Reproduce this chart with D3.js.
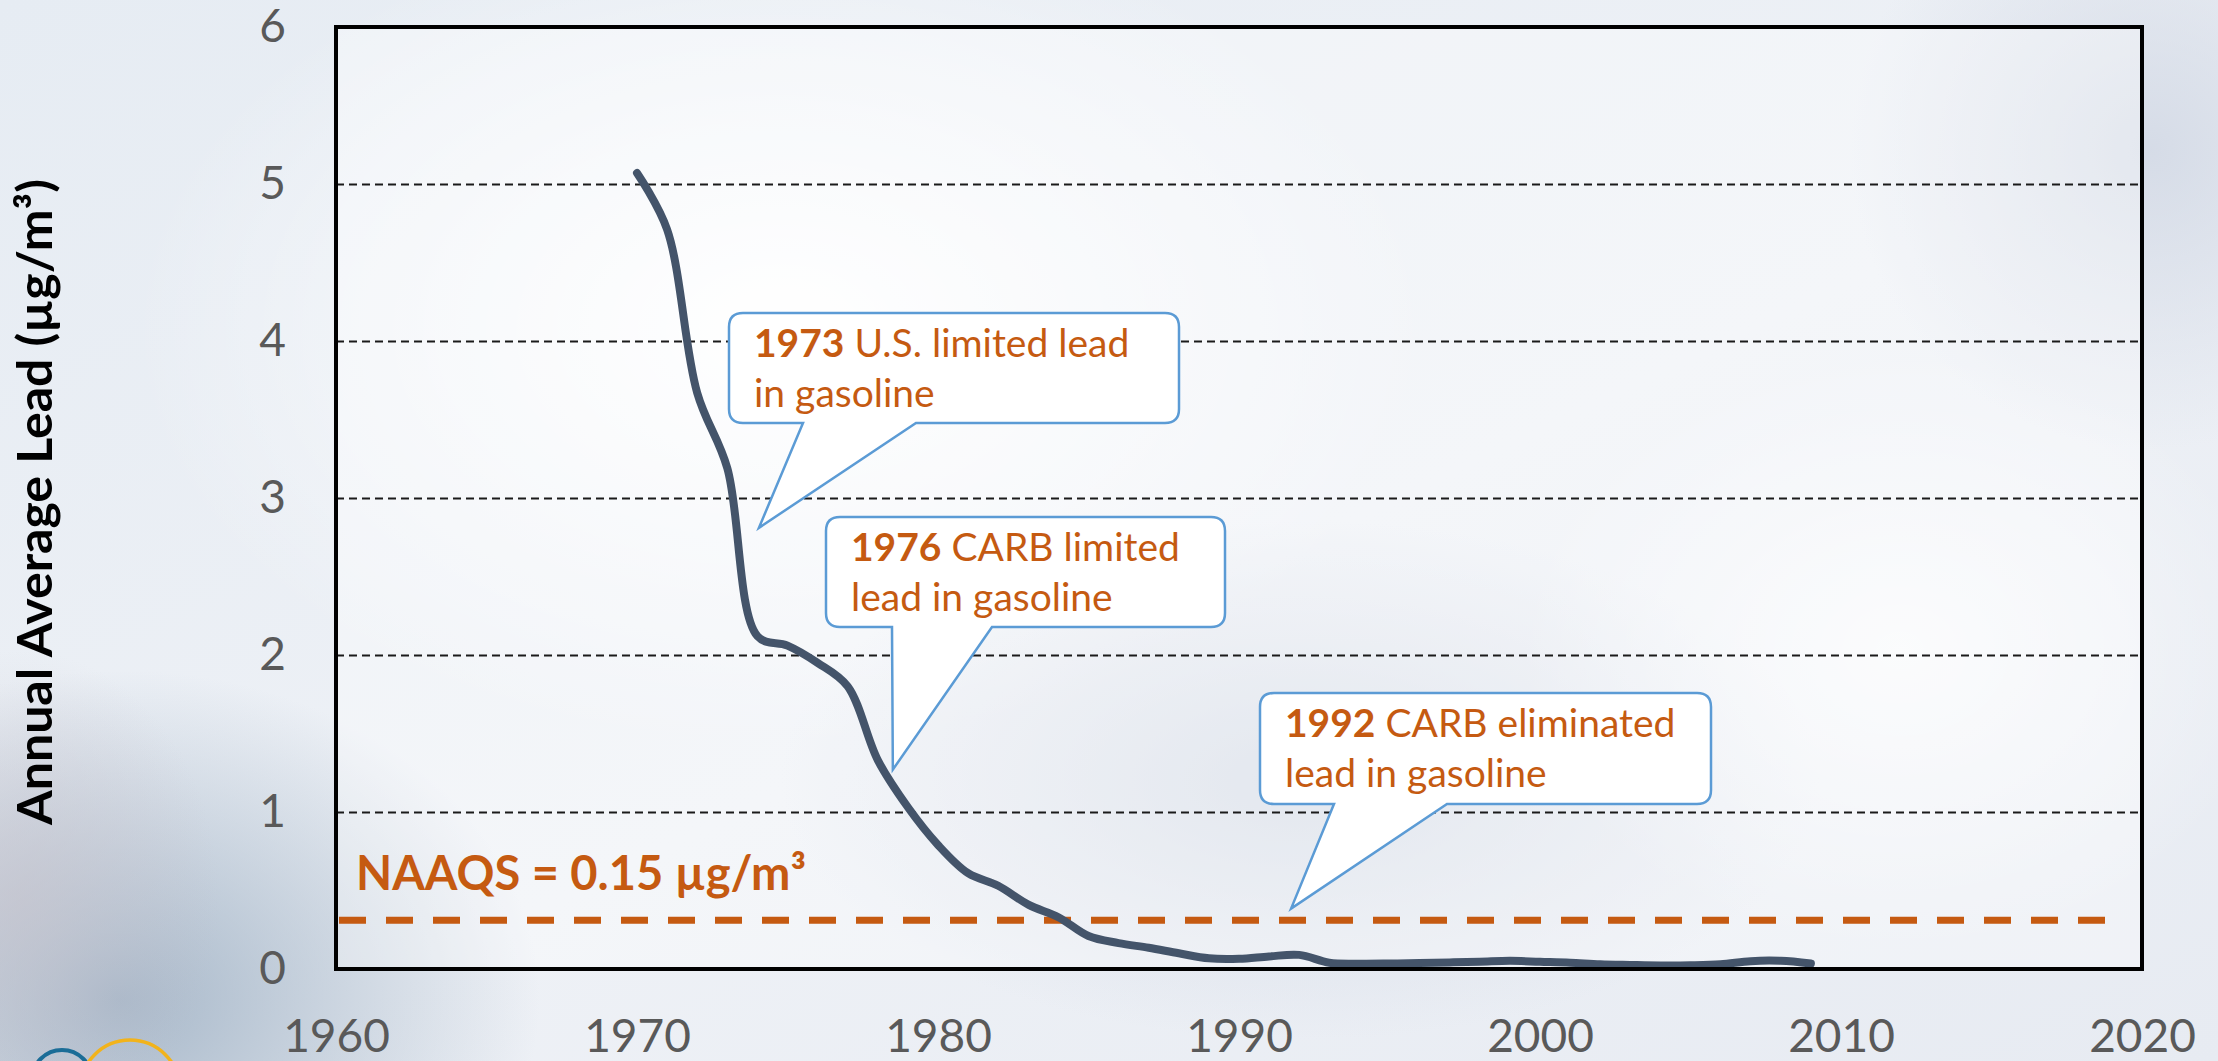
<!DOCTYPE html>
<html>
<head>
<meta charset="utf-8">
<script src="https://cdn.jsdelivr.net/npm/d3@7"></script>
<style>
  body { margin: 0; padding: 0; overflow: hidden; background: #e9eef4; }
  text { font-family: Lato, "Open Sans", sans-serif; }
</style>
</head>
<body>
<div id="chart-area"></div>
<script>
// Data
var years = [1970, 1971, 1972, 1973, 1974, 1975, 1976, 1977, 1978, 1979,
	1980, 1981, 1982, 1983, 1984, 1985, 1986, 1987, 1988, 1989,
	1990, 1991, 1992, 1993, 1994, 1995, 1996, 1997, 1998, 1999,
	2000, 2001, 2002, 2003, 2004, 2005, 2006, 2007, 2008, 2009];
var leadValues = [5.07, 4.71, 3.67, 3.19, 2.12, 2.06, 1.95, 1.80, 1.33, 1.03,
	0.79, 0.61, 0.53, 0.41, 0.33, 0.21, 0.165, 0.135, 0.10, 0.068,
	0.065, 0.08, 0.09, 0.04, 0.034, 0.035, 0.038, 0.042, 0.046, 0.052,
	0.046, 0.04, 0.03, 0.026, 0.023, 0.024, 0.03, 0.05, 0.052, 0.035];
var xTicks = [1960, 1970, 1980, 1990, 2000, 2010, 2020];
var yTicks = [0, 1, 2, 3, 4, 5, 6];
var naaqsLevel = 0.31;
var naaqsLabel = "NAAQS = 0.15 µg/m³";

var calloutYears = ["1973", "1976", "1992"];
var calloutLine1 = [" U.S. limited lead", " CARB limited", " CARB eliminated"];
var calloutLine2 = ["in gasoline", "lead in gasoline", "lead in gasoline"];
var calloutTipYear = [1974.05, 1978.5, 1991.73];
var calloutTipValue = [2.81, 1.27, 0.385];

// Layout
var margin = { left: 336, right: 76, top: 27, bottom: 92 };
var fullW = 2218, fullH = 1061;
var width = fullW - margin.left - margin.right,
	height = fullH - margin.top - margin.bottom;

// callout boxes (plot coords): x, y, w, h, tail start / end along bottom
var boxes = [
	{ x: 393, y: 286, w: 450, h: 110, t0: 74, t1: 187 },
	{ x: 490, y: 490, w: 399, h: 110, t0: 66, t1: 166 },
	{ x: 924, y: 666, w: 451, h: 111, t0: 74, t1: 187 }
];

var orange = "#C55A11";

var svg = d3.select("#chart-area")
	.append("svg")
	.attr("width", fullW)
	.attr("height", fullH);

// Background (blurred sky look)
var defs = svg.append("defs");

var bgLin = defs.append("linearGradient")
	.attr("id", "bgLin")
	.attr("x1", 0).attr("y1", 0).attr("x2", 1).attr("y2", 1);
bgLin.append("stop").attr("offset", "0%").attr("stop-color", "#e6ecf3");
bgLin.append("stop").attr("offset", "55%").attr("stop-color", "#eef1f6");
bgLin.append("stop").attr("offset", "100%").attr("stop-color", "#e7ebf2");

function blob(id, color, op) {
	var rg = defs.append("radialGradient").attr("id", id);
	rg.append("stop").attr("offset", "0%").attr("stop-color", color).attr("stop-opacity", op);
	rg.append("stop").attr("offset", "100%").attr("stop-color", color).attr("stop-opacity", 0);
}
blob("bWhite", "#ffffff", 1);
blob("bDark", "#9fb1c4", 0.9);
blob("bGrey", "#cfd6e3", 0.8);
blob("bWarm", "#c7c3cc", 0.6);

svg.append("rect").attr("width", fullW).attr("height", fullH).attr("fill", "url(#bgLin)");
svg.append("ellipse").attr("cx", 120).attr("cy", 1000).attr("rx", 420).attr("ry", 330).attr("fill", "url(#bDark)");
svg.append("ellipse").attr("cx", 20).attr("cy", 900).attr("rx", 200).attr("ry", 250).attr("fill", "url(#bWarm)");
svg.append("ellipse").attr("cx", 780).attr("cy", 330).attr("rx", 650).attr("ry", 420).attr("fill", "url(#bWhite)");
svg.append("ellipse").attr("cx", 1300).attr("cy", 780).attr("rx", 520).attr("ry", 260).attr("fill", "url(#bGrey)");
svg.append("ellipse").attr("cx", 1900).attr("cy", 650).attr("rx", 380).attr("ry", 300).attr("fill", "url(#bWhite)").attr("opacity", 0.7);
svg.append("ellipse").attr("cx", 2150).attr("cy", 150).attr("rx", 300).attr("ry", 300).attr("fill", "url(#bGrey)");

// Logo fragment bottom left
svg.append("circle").attr("cx", 62).attr("cy", 1080).attr("r", 30)
	.attr("fill", "none").attr("stroke", "#1b6d97").attr("stroke-width", 4);
svg.append("circle").attr("cx", 130).attr("cy", 1090).attr("r", 50)
	.attr("fill", "none").attr("stroke", "#f2b31b").attr("stroke-width", 3.5);

var g = svg.append("g")
	.attr("transform", "translate(" + margin.left + ", " + margin.top + ")");

// plot area wash
g.append("rect")
	.attr("width", width)
	.attr("height", height)
	.attr("fill", "#ffffff")
	.attr("opacity", 0.35);

// Scales
var x = d3.scaleLinear()
	.domain([1960, 2020])
	.range([0, width]);

var y = d3.scaleLinear()
	.domain([0, 6])
	.range([height, 0]);

// Grid lines
var grid = g.append("g")
	.attr("class", "grid")
	.call(d3.axisLeft(y).tickValues([1, 2, 3, 4, 5]).tickSize(-width).tickFormat(""));
grid.select(".domain").remove();
grid.selectAll("line")
	.attr("stroke", "#1a1a1a")
	.attr("stroke-width", 2)
	.attr("stroke-dasharray", "8,5");

// Y Axis labels
var yAxis = d3.axisLeft(y)
	.tickValues(yTicks)
	.tickFormat(d3.format("d"))
	.tickSize(0)
	.tickPadding(50);
var yg = g.append("g")
	.attr("class", "y-axis")
	.call(yAxis);
yg.select(".domain").remove();
yg.selectAll("text")
	.attr("fill", "#595959")
	.style("font-size", "46px")
	.style("font-family", "Lato, sans-serif");

// X Axis labels
var xAxis = d3.axisBottom(x)
	.tickValues(xTicks)
	.tickFormat(d3.format("d"))
	.tickSize(0);
var xg = g.append("g")
	.attr("class", "x-axis")
	.attr("transform", "translate(0," + height + ")")
	.call(xAxis);
xg.select(".domain").remove();
xg.selectAll("text")
	.attr("y", 83)
	.attr("dy", 0)
	.attr("fill", "#595959")
	.style("font-size", "46px")
	.style("font-family", "Lato, sans-serif");

// Y Label
svg.append("text")
	.attr("transform", "translate(52," + 502 + ") rotate(-90)")
	.attr("text-anchor", "middle")
	.attr("fill", "#000")
	.attr("textLength", 646)
	.attr("lengthAdjust", "spacingAndGlyphs")
	.style("font-size", "47px")
	.style("font-weight", "bold")
	.text("Annual Average Lead (µg/m³)");

// NAAQS line
g.append("line")
	.attr("x1", 3)
	.attr("x2", x(2018.8))
	.attr("y1", y(naaqsLevel))
	.attr("y2", y(naaqsLevel))
	.attr("stroke", orange)
	.attr("stroke-width", 7)
	.attr("stroke-dasharray", "27,20");

g.append("text")
	.attr("x", 20)
	.attr("y", y(naaqsLevel) - 30)
	.attr("fill", orange)
	.style("font-size", "47px")
	.style("font-weight", "bold")
	.text(naaqsLabel);

// Data line
var lead = years.map(function (d, i) { return { year: d, value: leadValues[i] }; });

var line = d3.line()
	.x(function (d) { return x(d.year); })
	.y(function (d) { return y(d.value); })
	.curve(d3.curveCatmullRom.alpha(0.5));

g.append("path")
	.datum(lead)
	.attr("fill", "none")
	.attr("stroke", "#44546A")
	.attr("stroke-width", 8)
	.attr("stroke-linecap", "round")
	.attr("stroke-linejoin", "round")
	.attr("d", line);

// Callouts
function calloutPath(b, tx, ty) {
	var r = 14;
	var x0 = b.x, y0 = b.y, x1 = b.x + b.w, y1 = b.y + b.h;
	return "M" + (x0 + r) + "," + y0 +
		"L" + (x1 - r) + "," + y0 +
		"Q" + x1 + "," + y0 + " " + x1 + "," + (y0 + r) +
		"L" + x1 + "," + (y1 - r) +
		"Q" + x1 + "," + y1 + " " + (x1 - r) + "," + y1 +
		"L" + (x0 + b.t1) + "," + y1 +
		"L" + tx + "," + ty +
		"L" + (x0 + b.t0) + "," + y1 +
		"L" + (x0 + r) + "," + y1 +
		"Q" + x0 + "," + y1 + " " + x0 + "," + (y1 - r) +
		"L" + x0 + "," + (y0 + r) +
		"Q" + x0 + "," + y0 + " " + (x0 + r) + "," + y0 + "Z";
}

var callouts = g.append("g").attr("class", "callouts");

calloutYears.forEach(function (yr, i) {
	var b = boxes[i];
	var c = callouts.append("g");
	c.append("path")
		.attr("d", calloutPath(b, x(calloutTipYear[i]), y(calloutTipValue[i])))
		.attr("fill", "#ffffff")
		.attr("stroke", "#5B9BD5")
		.attr("stroke-width", 2.5)
		.attr("stroke-linejoin", "miter");
	var t1 = c.append("text")
		.attr("x", b.x + 25)
		.attr("y", b.y + 44)
		.attr("fill", orange)
		.style("font-size", "39px");
	t1.append("tspan").style("font-weight", "bold").text(yr);
	t1.append("tspan").text(calloutLine1[i]);
	c.append("text")
		.attr("x", b.x + 25)
		.attr("y", b.y + 94)
		.attr("fill", orange)
		.style("font-size", "39px")
		.text(calloutLine2[i]);
});

// Plot border
g.append("rect")
	.attr("width", width)
	.attr("height", height)
	.attr("fill", "none")
	.attr("stroke", "#000")
	.attr("stroke-width", 4);
</script>
</body>
</html>
